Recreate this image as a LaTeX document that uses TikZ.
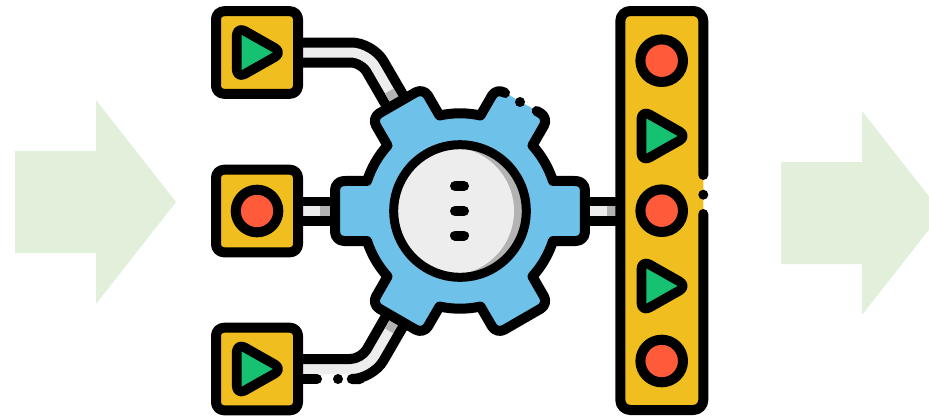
\documentclass[tikz,border=0pt]{standalone}
\definecolor{ink}{HTML}{000000}
\definecolor{boxyellow}{HTML}{F0BE1E}
\definecolor{playgreen}{HTML}{16C172}
\definecolor{stopred}{HTML}{FF5B3B}
\definecolor{pipelight}{HTML}{EDEDED}
\definecolor{pipedark}{HTML}{B3B3B3}
\definecolor{gearblue}{HTML}{6EC1E9}
\definecolor{arrowgreen}{HTML}{E2EFDA}
\tikzset{
  outline/.style={draw=ink,line width=10pt,line join=round,line cap=round},
  bandline/.style={line width=10pt,line join=round},
  holder/.style={outline,fill=boxyellow,rounded corners=8pt},
  pipeblack/.style={draw=ink,line width=30pt,rounded corners=16pt},
  pipelightline/.style={draw=pipelight,line width=10pt,rounded corners=16pt},
  pipedarkline/.style={draw=pipedark,line width=10pt},
  blockarrow/.style={fill=arrowgreen},
}
\newcommand{\playmark}[2]{%
  \begin{scope}[shift={(#1,#2)}]
    \draw[ink,fill=ink,line width=10pt,line join=round,rounded corners=9pt]
      (-20.1,-25.8) -- (25.5,0) -- (-20.1,25.8) -- cycle;
    \fill[playgreen] (-15.3,-17.5) -- (15.7,0) -- (-15.3,17.5) -- cycle;
  \end{scope}}
\newcommand{\stopmark}[2]{%
  \draw[outline,fill=stopred] (#1,#2) circle[radius=21.3];}
\newcommand{\holderbox}[2]{%
  \draw[holder] (#1-41,#2-41.3) rectangle (#1+41,#2+41.3);}
\begin{document}
\begin{tikzpicture}[x=1pt,y=-1pt]
\useasboundingbox (0,0) rectangle (929,416);
% block arrows
\fill[blockarrow] (15,151) -- (96,151) -- (96,100) -- (176,202) -- (96,304) -- (96,253) -- (15,253) -- cycle;
\fill[blockarrow] (781,162) -- (862,162) -- (862,111) -- (929,196.4) -- (929,229.6) -- (862,315) -- (862,264) -- (781,264) -- cycle;
% top pipe
\draw[pipeblack] (298,52.5) -- (367,52.5) -- (405,118);
\draw[pipelightline] (298,52.5) -- (367,52.5) -- (405,118);
\draw[pipedarkline] (389.3,91) -- (402,113);
% bottom pipe
\draw[pipelightline] (298,369) -- (367,369) -- (405,303);
\draw[pipedarkline] (389.3,331) -- (402,309);
\draw[draw=ink,bandline,rounded corners=11pt] (298,359) -- (361.2,359) -- (398,295);
\draw[draw=ink,bandline,line cap=round,rounded corners=21pt] (360,379) -- (372.8,379) -- (411,313);
\draw[draw=ink,bandline,line cap=round] (298,379) -- (317,379);
\fill[ink] (338,379) circle[radius=5];
% middle pipes
\draw[draw=ink,line width=29pt] (298,211) -- (340,211);
\draw[draw=pipelight,line width=10pt] (298,211) -- (320,211);
\draw[pipedarkline] (320,211) -- (340,211);
\draw[draw=ink,line width=29pt] (580,211) -- (625,211);
\draw[draw=pipelight,line width=10pt] (580,211) -- (607,211);
\draw[pipedarkline] (607,211) -- (620,211);
% gear
\begin{scope}[shift={(460,211)}]
  \fill[gearblue] (-46.5:128.5) -- (-42.1:97.7)
    \foreach \a in {0,60,120,180,240,300} {
      .. controls ({\a-34.07}:98.67) and ({\a-25.93}:98.67) .. ({\a-17.9}:97.7)
      [rounded corners=9pt] -- ({\a-13.5}:128.5) -- ({\a+13.5}:128.5) [sharp corners] -- ({\a+17.9}:97.7)
    };
  \draw[outline] (76.7,-100) [rounded corners=9pt] -- (-46.5:128.5) [sharp corners] -- (-42.1:97.7)
    \foreach \a in {0,60,120,180,240} {
      .. controls ({\a-34.07}:98.67) and ({\a-25.93}:98.67) .. ({\a-17.9}:97.7)
      [rounded corners=9pt] -- ({\a-13.5}:128.5) -- ({\a+13.5}:128.5) [sharp corners] -- ({\a+17.9}:97.7)
    }
    .. controls (-94.07:98.67) and (-85.93:98.67) .. (-77.9:97.7)
    [rounded corners=9pt] -- (-73.5:128.5) -- (45,-118);
  \fill[ink] (60,-109) circle[radius=5];
  \fill[pipedark] (0,0) circle[radius=64];
  \begin{scope}
    \clip (0,0) circle[radius=64];
    \fill[pipelight] (-10,0) circle[radius=64];
  \end{scope}
  \draw[draw=ink,line width=9pt] (0,0) circle[radius=66.3];
  \draw[outline] (-5,-25) -- (4,-25);
  \draw[outline] (-5,0) -- (4,0);
  \draw[outline] (-5,24.5) -- (4,24.5);
\end{scope}
% source boxes
\holderbox{257}{52.5}
\playmark{257}{52.5}
\holderbox{257}{211}
\stopmark{257}{211}
\holderbox{257}{369}
\playmark{257}{369}
% output bar
\fill[boxyellow,rounded corners=8pt] (620.3,11) rectangle (703.3,410);
\draw[outline,rounded corners=10pt] (703.3,175) -- (703.3,11) -- (620.3,11) -- (620.3,410) -- (703.3,410) -- (703.3,214);
\fill[ink] (703.3,194.7) circle[radius=5];
\stopmark{661.7}{60.7}
\playmark{661.7}{136}
\stopmark{661.7}{210.7}
\playmark{661.7}{286}
\stopmark{661.7}{361}
\end{tikzpicture}
\end{document}
